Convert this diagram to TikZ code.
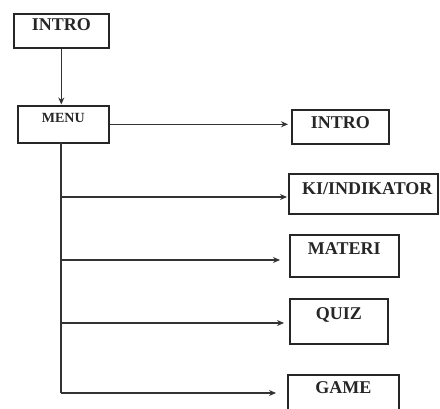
\documentclass[tikz,border=0pt]{standalone}
\usepackage{fontspec}
\setmainfont{Liberation Serif}
\usetikzlibrary{arrows.meta}
\tikzset{
  box/.style={draw=black!85, line width=1.6pt, inner xsep=0pt, inner ysep=0pt,
    anchor=north west, font=\fontsize{18}{20}\selectfont\bfseries, text=black!85},
  conn/.style={draw=black!80, line width=1.5pt},
  arr/.style={conn, -{Stealth[length=7pt,width=6pt]}}
}
\begin{document}
\begin{tikzpicture}[x=1pt,y=-1pt]
\clip (0,0) rectangle (440,409);
\fill[white] (0,0) rectangle (440,409);
\node[box, minimum width=95pt, text height=16.3pt, text depth=17.7pt] (intro1) at (13,13) {INTRO};
\node[box, minimum width=91pt, text height=17pt, text depth=20pt, font=\fontsize{14}{16}\selectfont\bfseries] (menu) at (17,105) {MENU};
\node[box, minimum width=97pt, text height=18.7pt, text depth=15.3pt] (intro2) at (291,109) {INTRO};
\node[box, minimum width=149pt, text height=20.3pt, text depth=19.7pt] (ki) at (288,173) {\hspace*{8pt}KI/INDIKATOR};
\node[box, minimum width=109pt, text height=20pt, text depth=22pt] (materi) at (289,234) {MATERI};
\node[box, minimum width=98pt, text height=20.3pt, text depth=24.7pt] (quiz) at (289,298) {QUIZ};
\node[box, minimum width=111pt, text height=18.7pt, text depth=28pt] (game) at (287,374) {GAME};
\coordinate (t0) at (61,142);
\coordinate (b1) at (61,197);
\coordinate (b2) at (61,260);
\coordinate (b3) at (61,323);
\coordinate (b4) at (61,393);
\draw[arr, shorten >=0.5pt] (intro1.south) -- (intro1.south |- menu.north);
\draw[arr, shorten >=3pt] (menu.east) -- (menu.east -| intro2.west);
\draw[conn] (t0) -- (b4);
\draw[arr, shorten >=1pt] (b1) -- (b1 -| ki.west);
\draw[arr, shorten >=9pt] (b2) -- (b2 -| materi.west);
\draw[arr, shorten >=5pt] (b3) -- (b3 -| quiz.west);
\draw[arr, shorten >=11pt] (b4) -- (b4 -| game.west);
\end{tikzpicture}
\end{document}
